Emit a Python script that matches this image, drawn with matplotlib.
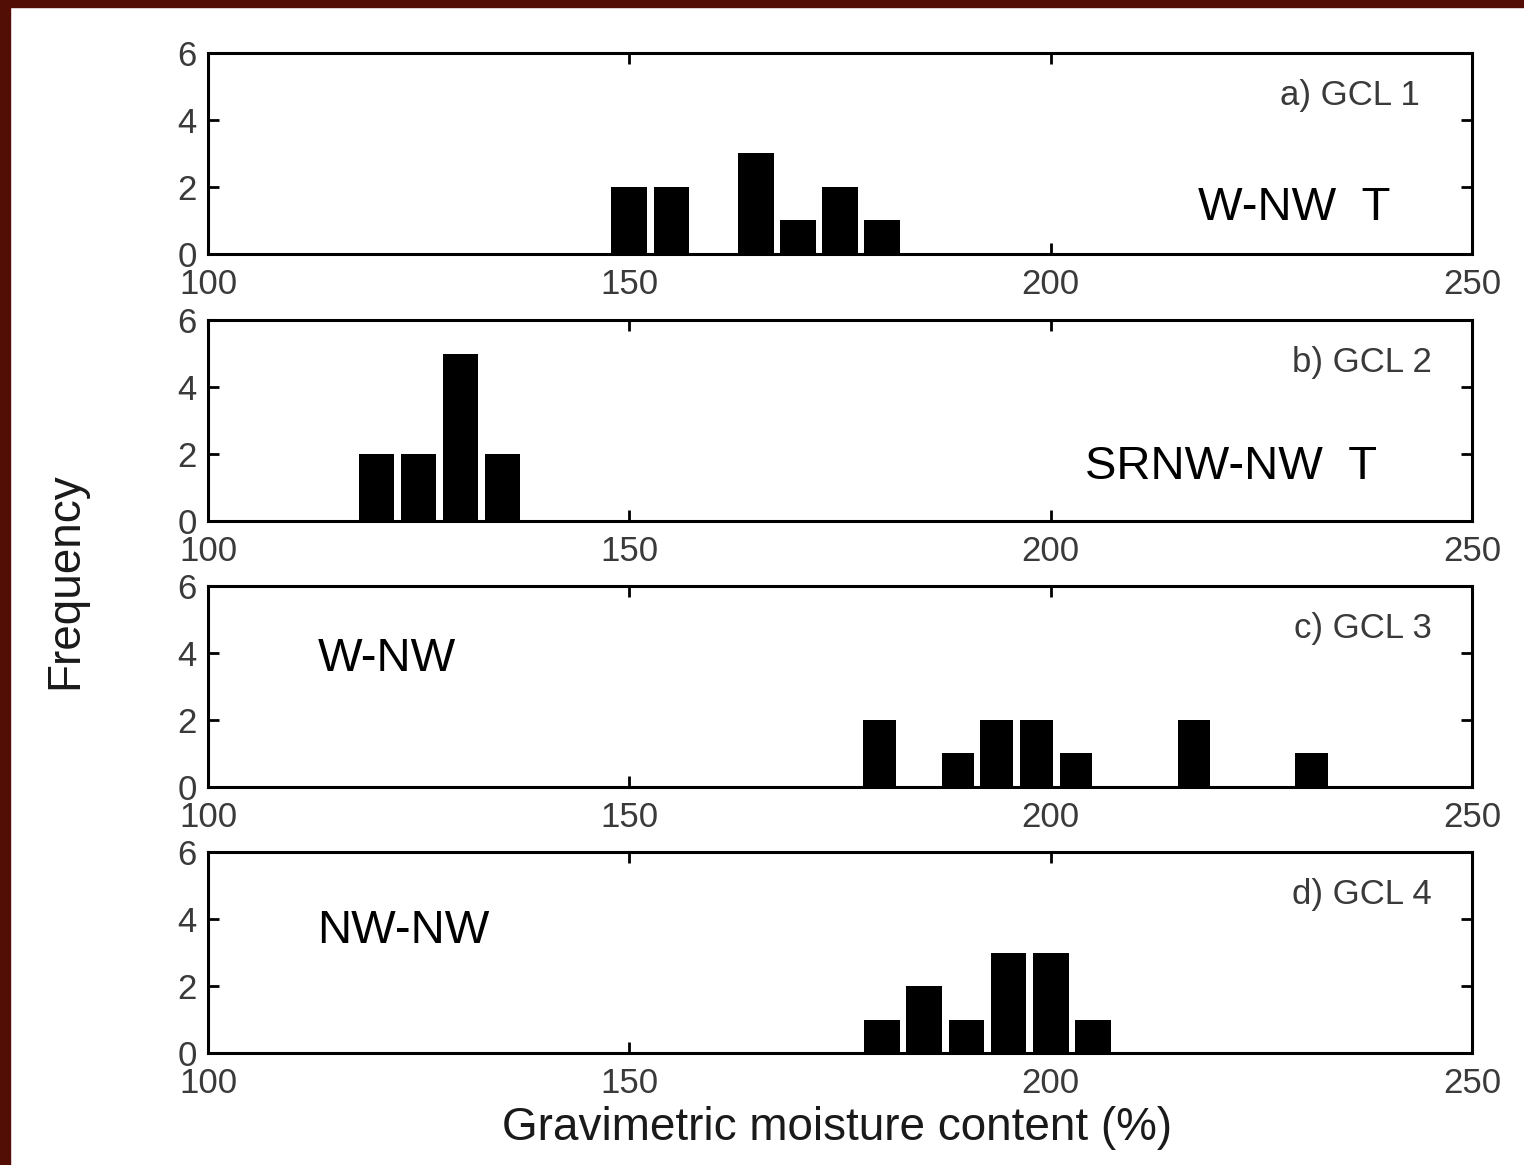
import matplotlib.pyplot as plt
from matplotlib.patches import Rectangle

# bin centres (%) and counts for each GCL panel
centres_a = [150, 155, 165, 170, 175, 180]
counts_a = [2, 2, 3, 1, 2, 1]
centres_b = [120, 125, 130, 135]
counts_b = [2, 2, 5, 2]
centres_c = [179.7, 189.0, 193.6, 198.3, 203.0, 217.0, 231.0]
counts_c = [2, 1, 2, 2, 1, 2, 1]
centres_d = [180, 185, 190, 195, 200, 205]
counts_d = [1, 2, 1, 3, 3, 1]

panel_labels = ["a) GCL 1", "b) GCL 2", "c) GCL 3", "d) GCL 4"]
notes = ["W-NW  T", "SRNW-NW  T", "W-NW", "NW-NW"]
x_ticks = [100, 150, 200, 250]
y_ticks = [0, 2, 4, 6]

plt.rcParams['font.family'] = ['Liberation Sans', 'DejaVu Sans']

fig = plt.figure(figsize=(15.24, 11.65), dpi=100)
fig.patch.set_facecolor('white')

# dark red frame at top and left
frame = '#520e04'
fig.patches.append(Rectangle((0, 1 - 7 / 1165), 1, 7 / 1165, transform=fig.transFigure,
                             color=frame, zorder=0))
fig.patches.append(Rectangle((0, 0), 10 / 1524, 1, transform=fig.transFigure,
                             color=frame, zorder=0))

data = [(centres_a, counts_a, 4.25), (centres_b, counts_b, 4.15),
        (centres_c, counts_c, 3.9), (centres_d, counts_d, 4.25)]
bottoms = [0.782, 0.5528, 0.3245, 0.0961]
note_pos = [(217.5, 1.37), (204.1, 1.61), (113.0, 3.83), (113.0, 3.64)]
label_right = [0.959, 0.968, 0.968, 0.968]
gray = '#3a3a3a'

for i, (centres, counts, w) in enumerate(data):
    ax = fig.add_axes([0.1365, bottoms[i], 0.8294, 0.1725])
    ax.bar(centres, counts, width=w, color='black', edgecolor='black', linewidth=0)
    ax.set_xlim(100, 250)
    ax.set_ylim(0, 6)
    ax.set_xticks(x_ticks)
    ax.set_yticks(y_ticks)
    ax.tick_params(direction='in', length=8, width=2, top=True, right=True,
                   labelsize=25, labelcolor=gray)
    ax.tick_params(axis='x', pad=10)
    ax.tick_params(axis='y', pad=8)
    for s in ax.spines.values():
        s.set_linewidth(2.2)
    ax.text(label_right[i], 0.79, panel_labels[i], transform=ax.transAxes,
            ha='right', va='center', fontsize=25, color=gray)
    nx, ny = note_pos[i]
    ax.text(nx, ny, notes[i], ha='left', va='center', fontsize=34, color='black')

fig.text(0.043, 0.502, 'Frequency', rotation=90, ha='center', va='center',
         fontsize=33, color='#1a1a1a')
fig.text(0.549, 0.032, 'Gravimetric moisture content (%)', ha='center', va='center',
         fontsize=33, color='#1a1a1a')

fig.savefig('out.png', dpi=100)
